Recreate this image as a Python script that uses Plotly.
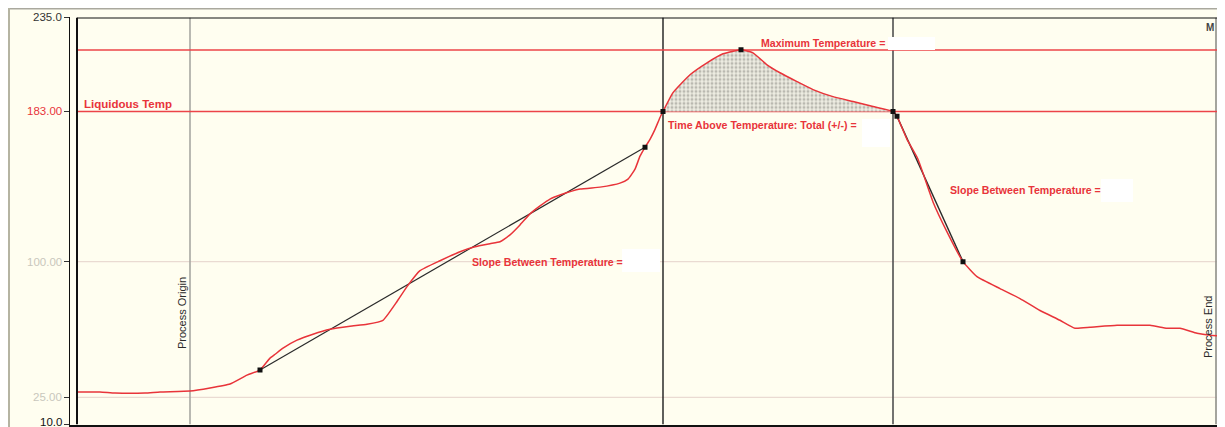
import plotly.graph_objects as go

# The page body has an 8px margin, so the figure is sized to fit the window
W, H = 1217, 419
OFF = 8

# ---------------- data ----------------
time_s = [0, 23, 38, 68, 83, 113, 133, 153, 170, 183,
          193, 197, 206, 220, 236, 253, 273, 290, 306, 320,
          330, 343, 363, 383, 398, 413, 423, 433, 443, 453,
          463, 473, 483, 503, 523, 543, 551, 558, 563, 568,
          573, 578, 583, 586, 596, 613, 630, 646, 664, 676,
          690, 703, 720, 736, 756, 776, 796, 816, 820, 830,
          841, 856, 870, 886, 900, 923, 943, 963, 983, 998,
          1013, 1040, 1073, 1090, 1103, 1120, 1133, 1148]
temp_c = [28.0, 28.0, 27.4, 27.4, 28.0, 28.5, 30.2, 32.4, 37.3, 40.1,
          46.7, 48.3, 52.2, 56.6, 59.9, 62.6, 64.3, 65.4, 67.6, 78.0,
          86.2, 95.0, 100.5, 105.5, 108.2, 109.9, 111.0, 114.8, 120.3, 126.4,
          130.8, 134.6, 136.8, 140.1, 141.2, 143.4, 145.6, 151.1, 158.3, 163.2,
          167.6, 173.1, 179.7, 183.0, 193.4, 203.3, 209.9, 214.9, 217.1, 215.4,
          208.8, 204.4, 199.5, 195.1, 191.2, 188.5, 185.7, 183.0, 180.3, 167.6,
          156.6, 133.0, 116.5, 100.0, 91.7, 85.1, 79.6, 73.0, 67.6, 63.2,
          63.7, 64.8, 64.8, 63.2, 63.2, 60.4, 59.3, 58.8]
assert len(time_s) == len(temp_c)

liquidus_temp = 183.0
max_temp = 217.0
grid_temps = [100.0, 25.0]

tick_vals = [235.0, 183.0, 100.0, 25.0, 10.0]
tick_text = ["235.0", "183.00", "100.00", "25.00", "10.0"]
tick_colors = ["#333333", "#e8343a", "#c9c7bd", "#c9c7bd", "#111111"]

# event markers (time, temp)
marker_t = [183, 568, 586, 664, 816, 820, 886]
marker_v = [40.1, 163.2, 183.0, 217.1, 183.0, 180.3, 100.0]

# slope segments
slope1_t = [183, 568]
slope1_v = [40.1, 163.2]
slope2_t = [820, 886]
slope2_v = [180.3, 100.0]

# vertical event lines
process_origin_t = 113
tal_start_t = 586
tal_end_t = 816
process_end_t = 1139

# ---------------- styling helpers ----------------
RED = "#e8343a"
CREAM = "#fffef0"
FONT = "Liberation Sans, Arial, sans-serif"

x_min, x_max = -7, 1148
y_min, y_max = 10, 235


def px(xpix):
    """screen x pixel -> paper"""
    return (xpix - OFF) / W


def py(ypix):
    """screen y pixel -> paper"""
    return 1 - (ypix - OFF) / H


dom_x0 = px(70)
dom_y0 = py(424.5)
dom_y1 = py(17.4)

fig = go.Figure()

# TAT shaded area
tal_t = [t for t in time_s if tal_start_t <= t <= tal_end_t]
tal_v = [v for t, v in zip(time_s, temp_c) if tal_start_t <= t <= tal_end_t]
fig.add_trace(go.Scatter(x=tal_t, y=[liquidus_temp] * len(tal_t), mode="lines",
                         line=dict(width=0, color="rgba(0,0,0,0)"), hoverinfo="skip",
                         showlegend=False))
fig.add_trace(go.Scatter(x=tal_t, y=tal_v, mode="lines", fill="tonexty",
                         fillcolor="#ecebe0",
                         fillpattern=dict(shape=".", fgcolor="#85857f", bgcolor="#eeede2",
                                          size=4, solidity=0.45),
                         line=dict(width=0, color="rgba(0,0,0,0)", shape="spline",
                                   smoothing=0.4),
                         hoverinfo="skip", showlegend=False))

# slope lines
fig.add_trace(go.Scatter(x=slope1_t, y=slope1_v, mode="lines",
                         line=dict(color="#2a2a2a", width=1.2), showlegend=False))
fig.add_trace(go.Scatter(x=slope2_t, y=slope2_v, mode="lines",
                         line=dict(color="#2a2a2a", width=1.4), showlegend=False))

# profile
fig.add_trace(go.Scatter(x=time_s, y=temp_c, mode="lines",
                         line=dict(color=RED, width=1.5, shape="spline", smoothing=0.4),
                         showlegend=False))

# markers
fig.add_trace(go.Scatter(x=marker_t, y=marker_v, mode="markers",
                         marker=dict(symbol="square", size=5, color="#111111"),
                         showlegend=False))

shapes = []
# outer frame (top and left border of the panel)
shapes.append(dict(type="line", xref="paper", yref="paper", x0=0, x1=1, y0=py(8.8), y1=py(8.8),
                   line=dict(color="#a9a89e", width=1.6)))
shapes.append(dict(type="line", xref="paper", yref="paper", x0=px(9), x1=px(9), y0=0, y1=1,
                   line=dict(color="#b5b4a2", width=2)))

# grid lines
for g in grid_temps:
    shapes.append(dict(type="line", xref="x", yref="y", x0=0, x1=x_max, y0=g, y1=g,
                       line=dict(color="#eadbd2", width=1.2), layer="below"))

# vertical event lines
for t, c, w in [(process_origin_t, "#a8a8a2", 1.6), (tal_start_t, "#1c1c1c", 1.4),
                (tal_end_t, "#505050", 1.6), (process_end_t, "#8f8f8a", 1.6)]:
    shapes.append(dict(type="line", xref="x", yref="y", x0=t, x1=t, y0=y_min, y1=y_max,
                       line=dict(color=c, width=w), layer="below"))

# red reference lines
for v in [liquidus_temp, max_temp]:
    shapes.append(dict(type="line", xref="x", yref="y", x0=0, x1=x_max, y0=v, y1=v,
                       line=dict(color="#ec4448", width=1.5), layer="below"))

# plot frame
shapes.append(dict(type="line", xref="x", yref="y", x0=0, x1=0, y0=y_min, y1=y_max,
                   line=dict(color="#111111", width=2)))
shapes.append(dict(type="line", xref="x", yref="y", x0=0, x1=x_max, y0=y_max, y1=y_max,
                   line=dict(color="#111111", width=2)))

# white value boxes (obscured values)
for x0, x1, y0, y1 in [(888, 935, 37, 50), (862, 890, 119, 147),
                       (622, 660, 249, 272), (1101, 1133, 179, 202)]:
    shapes.append(dict(type="rect", xref="paper", yref="paper", x0=px(x0), x1=px(x1),
                       y0=py(y1), y1=py(y0), fillcolor="#ffffff", line=dict(width=0)))

annotations = []
tick_y_override = {10.0: 11.5}
for v, txt, col in zip(tick_vals, tick_text, tick_colors):
    annotations.append(dict(xref="paper", yref="y", x=px(64), y=tick_y_override.get(v, v),
                            text=txt, showarrow=False,
                            xanchor="right", yanchor="middle",
                            font=dict(family=FONT, size=11.5, color=col)))


def red_label(text, xl, yc, size=10, bold=True):
    t = f"<b>{text}</b>" if bold else text
    annotations.append(dict(xref="paper", yref="paper", x=px(xl), y=py(yc), text=t,
                            showarrow=False, xanchor="left", yanchor="middle",
                            font=dict(family=FONT, size=size, color=RED)))


red_label("Liquidous Temp", 82, 104, size=11.5)
red_label("Maximum Temperature =", 759, 43, size=10.6)
red_label("Time Above Temperature: Total (+/-) =", 666, 125, size=10.6)
red_label("Slope Between Temperature =", 470, 262, size=10.6)
red_label("Slope Between Temperature =", 948, 190, size=10.6)

annotations.append(dict(xref="paper", yref="paper", x=px(182), y=py(313), text="Process Origin",
                        showarrow=False, textangle=-90, xanchor="center", yanchor="middle",
                        font=dict(family=FONT, size=11, color="#2a2a2a")))
annotations.append(dict(xref="paper", yref="paper", x=px(1208), y=py(327), text="Process End",
                        showarrow=False, textangle=-90, xanchor="center", yanchor="middle",
                        font=dict(family=FONT, size=11, color="#2a2a2a")))
annotations.append(dict(xref="paper", yref="paper", x=px(1210), y=py(28), text="<b>M</b>",
                        showarrow=False, xanchor="center", yanchor="middle",
                        font=dict(family=FONT, size=10, color="#444444")))

fig.update_layout(
    width=W, height=H, autosize=False,
    margin=dict(l=0, r=0, t=0, b=0, pad=0),
    paper_bgcolor=CREAM, plot_bgcolor=CREAM,
    showlegend=False,
    xaxis=dict(domain=[dom_x0, 1], range=[x_min, x_max], showgrid=False, zeroline=False,
               showticklabels=False, ticks="", showline=True, linecolor="#111111",
               linewidth=2),
    yaxis=dict(domain=[dom_y0, dom_y1], range=[y_min, y_max], showgrid=False, zeroline=False,
               showticklabels=False, ticks="outside", ticklen=5, tickcolor="#333333",
               tickwidth=1, tickvals=tick_vals, showline=True, linecolor="#111111",
               linewidth=1.2),
    shapes=shapes,
    annotations=annotations,
    hovermode=False,
)

fig.write_html("out.html")
